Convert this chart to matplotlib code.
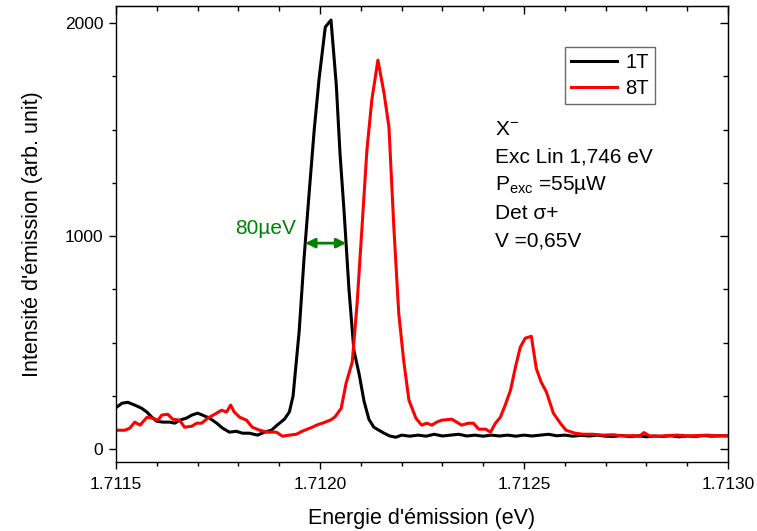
import matplotlib
matplotlib.use('Agg')
import matplotlib.pyplot as plt
from matplotlib.ticker import MultipleLocator, FormatStrFormatter

plt.rcParams['font.family'] = ['Liberation Sans', 'DejaVu Sans']
plt.rcParams['mathtext.fontset'] = 'custom'
plt.rcParams['mathtext.rm'] = 'Liberation Sans'

# 1T spectrum (energy in eV, intensity arb. unit)
energy_1t = [
    1.711500, 1.711515, 1.711529, 1.711546, 1.711563, 1.711576, 1.711588, 1.711600,
    1.711615, 1.711632, 1.711644, 1.711656, 1.711673, 1.711686, 1.711700, 1.711712,
    1.711729, 1.711747, 1.711761, 1.711778, 1.711795, 1.711810, 1.711827, 1.711847,
    1.711864, 1.711881, 1.711895, 1.711913, 1.711925, 1.711934, 1.711949, 1.711961,
    1.711974, 1.711986, 1.711998, 1.712013, 1.712027, 1.712040, 1.712049, 1.712059,
    1.712071, 1.712083, 1.712096, 1.712108, 1.712120, 1.712132, 1.712157, 1.712171,
    1.712186,
    1.71220, 1.71222, 1.71224, 1.71226, 1.71228, 1.71230, 1.71232, 1.71234, 1.71236,
    1.71238, 1.71240, 1.71242, 1.71244, 1.71246, 1.71248, 1.71250, 1.71252, 1.71254,
    1.71256, 1.71258, 1.71260, 1.71262, 1.71264, 1.71266, 1.71268, 1.71270, 1.71272,
    1.71274, 1.71276, 1.71278, 1.71280, 1.71282, 1.71284, 1.71286, 1.71288, 1.71290,
    1.71292, 1.71294, 1.71296, 1.71298, 1.71300,
]
intensity_1t = [
    195, 216, 220, 207, 192, 174, 150, 131,
    127, 127, 122, 136, 146, 160, 169, 160,
    146, 122, 99, 80, 84, 75, 75, 66,
    80, 89, 113, 141, 175, 249, 554, 897,
    1216, 1502, 1742, 1981, 2014, 1709, 1390, 1117,
    751, 465, 352, 225, 140, 103, 75, 62,
    56,
    66, 61, 66, 61, 70, 62, 66, 70, 62,
    66, 61, 66, 62, 66, 61, 66, 62, 66,
    70, 63, 66, 61, 65, 62, 66, 61, 60,
    64, 59, 63, 58, 62, 60, 63, 58, 62,
    60, 64, 61, 63, 62,
]

# 8T spectrum
energy_8t = [
    1.711500, 1.711522, 1.711534, 1.711546, 1.711559, 1.711576, 1.711590, 1.711603,
    1.711612, 1.711627, 1.711639, 1.711656, 1.711668, 1.711686, 1.711698, 1.711710,
    1.711725, 1.711742, 1.711759, 1.711771, 1.711781, 1.711790, 1.711803, 1.711820,
    1.711834, 1.711852, 1.711871, 1.711893, 1.711908, 1.711925, 1.711942, 1.711956,
    1.711969, 1.711981, 1.711993, 1.712010, 1.712027, 1.712037, 1.712052, 1.712064,
    1.712079, 1.712091, 1.712103, 1.712115, 1.712127, 1.712142, 1.712157, 1.712169,
    1.712181, 1.712193, 1.712205, 1.712218, 1.712235, 1.712249, 1.712262, 1.712274,
    1.712286, 1.712298, 1.712323, 1.712347, 1.712364, 1.712376, 1.712389, 1.712406,
    1.712418, 1.712430, 1.712442, 1.712454, 1.712467, 1.712479, 1.712491, 1.712503,
    1.712518, 1.712530, 1.712542, 1.712555, 1.712572, 1.712589, 1.712603, 1.712625,
    1.712645, 1.712669, 1.712694, 1.712718, 1.712743, 1.712767, 1.712782, 1.712794,
    1.712808, 1.712828, 1.712852, 1.712877, 1.712901, 1.712926, 1.712950, 1.712975,
    1.713000,
]
intensity_8t = [
    89, 89, 99, 127, 113, 150, 146, 136,
    160, 164, 141, 136, 103, 108, 122, 122,
    146, 164, 183, 174, 207, 174, 150, 136,
    103, 89, 80, 80, 61, 66, 70, 84,
    94, 103, 114, 125, 138, 152, 192, 310,
    408, 685, 1042, 1404, 1638, 1826, 1671, 1512,
    1042, 638, 418, 230, 146, 113, 122, 113,
    127, 136, 141, 113, 122, 122, 94, 94,
    80, 122, 150, 207, 277, 385, 479, 521,
    530, 380, 315, 268, 169, 122, 89, 75,
    70, 70, 66, 68, 62, 64, 60, 78,
    62, 60, 64, 66, 62, 64, 66, 62,
    64,
]

# linewidth marker (80 µeV) at mid-height of the 1T peak
fwhm_start = 1.711964
fwhm_end = 1.712064
fwhm_level = 967

info_lines = [r'$\mathregular{X^{-}}$', 'Exc Lin 1,746 eV',
              r'$\mathregular{P_{exc}}$ =55µW', 'Det σ+', 'V =0,65V']

fig = plt.figure(figsize=(7.57, 5.31), dpi=100)
ax = fig.add_axes([0.1532, 0.130, 0.8085, 0.8587])

ax.plot(energy_1t, intensity_1t, color='black', lw=2.2, label='1T')
ax.plot(energy_8t, intensity_8t, color='#ff0000', lw=2.2, label='8T')

ax.set_xlim(1.7115, 1.7130)
ax.set_ylim(-60, 2080)
ax.xaxis.set_major_locator(MultipleLocator(0.0005))
ax.xaxis.set_minor_locator(MultipleLocator(0.0001))
ax.xaxis.set_major_formatter(FormatStrFormatter('%.4f'))
ax.yaxis.set_major_locator(MultipleLocator(1000))
ax.yaxis.set_minor_locator(MultipleLocator(250))
ax.tick_params(which='both', direction='out', width=1, labelsize=12.5)
ax.tick_params(axis='x', pad=6)
ax.tick_params(axis='y', pad=4)
ax.tick_params(which='major', length=5)
ax.tick_params(which='minor', length=3)
for s in ax.spines.values():
    s.set_linewidth(1.0)

# inward ticks on top and right
top = ax.secondary_xaxis('top')
top.xaxis.set_major_locator(MultipleLocator(0.0005))
top.xaxis.set_minor_locator(MultipleLocator(0.0001))
top.tick_params(which='both', direction='in', labeltop=False, width=1)
top.tick_params(which='major', length=6)
top.tick_params(which='minor', length=3.5)
right = ax.secondary_yaxis('right')
right.yaxis.set_major_locator(MultipleLocator(1000))
right.yaxis.set_minor_locator(MultipleLocator(250))
right.tick_params(which='both', direction='in', labelright=False, width=1)
right.tick_params(which='major', length=6)
right.tick_params(which='minor', length=3.5)

ax.set_xlabel("Energie d'émission (eV)", fontsize=15.5, labelpad=11)
ax.set_ylabel("Intensité d'émission (arb. unit)", fontsize=15.5, labelpad=16)

ax.annotate('', xy=(fwhm_start, fwhm_level), xytext=(fwhm_end, fwhm_level),
            arrowprops=dict(arrowstyle='<|-|>', color='#008000', lw=2,
                            mutation_scale=14, shrinkA=0, shrinkB=0))
ax.text(1.711866, 1037, '80µeV', color='#008000', fontsize=15, ha='center', va='center')

y_txt = 1500
for line in info_lines:
    ax.text(1.712430, y_txt, line, fontsize=15, va='center', ha='left')
    y_txt -= 131

leg = ax.legend(loc='upper left', bbox_to_anchor=(0.733, 0.91), fontsize=14.5,
                frameon=True, fancybox=False, edgecolor='#444444',
                handlelength=2.3, handletextpad=0.4, borderpad=0.3,
                labelspacing=0.35, borderaxespad=0)
leg.get_frame().set_linewidth(1.0)

fig.savefig('out.png', dpi=100)
